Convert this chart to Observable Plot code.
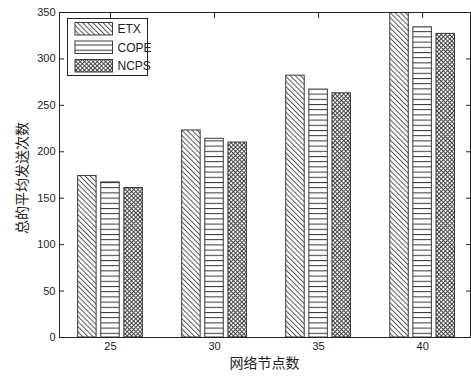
<!DOCTYPE html>
<html><head><meta charset="utf-8">
<script src="https://cdn.jsdelivr.net/npm/d3@7"></script>
<script src="https://cdn.jsdelivr.net/npm/@observablehq/plot@0.6"></script>
<style>
body{margin:0;background:#fff}
#chart{position:relative;width:471px;height:377px}
</style>
</head><body><div id="chart"></div>
<script>
// ---- data ----
const categories = [25, 30, 35, 40];
const seriesNames = ["ETX", "COPE", "NCPS"];
const etxValues = [174, 223, 282, 358];
const copeValues = [167, 214, 267, 334];
const ncpsValues = [161, 210, 263, 327];
const yTicks = [0, 50, 100, 150, 200, 250, 300, 350];
const xTicks = [25, 30, 35, 40];
const xLabel = "网络节点数";
const yLabel = "总的平均发送次数";

const seriesValues = [etxValues, copeValues, ncpsValues];
const patternIds = ["pat-etx", "pat-cope", "pat-ncps"];
const rows = [];
seriesNames.forEach((s, i) => categories.forEach((c, j) =>
  rows.push({category: c, series: s, index: i, value: seriesValues[i][j]})));

// MATLAB-style grouped bar geometry (in data units)
const groupSpacing = 5;
const barStep = groupSpacing * (3 / 4.5) / 3;
const barWidth = 0.8 * barStep;

const W = 471, H = 377;
const axisFont = "'Liberation Sans', Arial, sans-serif";

const barMarks = seriesNames.map((s, i) => Plot.rectY(rows.filter(d => d.series === s), {
  x1: d => d.category + (d.index - 1) * barStep - barWidth / 2,
  x2: d => d.category + (d.index - 1) * barStep + barWidth / 2,
  y: "value",
  fill: `url(#${patternIds[i]})`,
  stroke: "#3a3a3a",
  strokeWidth: 1,
  clip: true
}));

const svg = Plot.plot({
  width: W,
  height: H,
  marginLeft: 59,
  marginRight: 1,
  marginTop: 12,
  marginBottom: 40,
  style: {fontFamily: axisFont, fontSize: "11px", color: "#222", background: "#fff"},
  x: {type: "linear", domain: [22.55, 42.3]},
  y: {domain: [0, 350]},
  marks: [
    ...barMarks,
    Plot.frame({stroke: "#222"}),
    Plot.axisY(yTicks, {anchor: "left", tickSize: -5, tickPadding: 9, label: null, stroke: "#222"}),
    Plot.axisY(yTicks, {anchor: "right", tickSize: -5, tickFormat: () => "", label: null, stroke: "#222"}),
    Plot.axisX(xTicks, {anchor: "bottom", tickSize: 0, tickPadding: 5, label: null}),
    Plot.axisX(xTicks, {anchor: "top", tickSize: -5, tickFormat: () => "", label: null, stroke: "#222"})
  ]
});

const root = d3.select(svg);
const defs = root.insert("defs", ":first-child");
// ETX: diagonal "\" hatching
const p1 = defs.append("pattern").attr("id", "pat-etx").attr("patternUnits", "userSpaceOnUse")
  .attr("width", 3.6).attr("height", 3.6).attr("patternTransform", "rotate(-45)");
p1.append("rect").attr("width", 3.6).attr("height", 3.6).attr("fill", "#fff");
p1.append("line").attr("x1", 0.5).attr("y1", 0).attr("x2", 0.5).attr("y2", 3.6).attr("stroke", "#555").attr("stroke-width", 1);
// COPE: horizontal lines
const p2 = defs.append("pattern").attr("id", "pat-cope").attr("patternUnits", "userSpaceOnUse")
  .attr("width", 6).attr("height", 5.2);
p2.append("rect").attr("width", 6).attr("height", 5.2).attr("fill", "#fff");
p2.append("line").attr("x1", 0).attr("y1", 0.5).attr("x2", 6).attr("y2", 0.5).attr("stroke", "#333").attr("stroke-width", 1);
// NCPS: cross-hatch
const p3 = defs.append("pattern").attr("id", "pat-ncps").attr("patternUnits", "userSpaceOnUse")
  .attr("width", 3).attr("height", 3).attr("patternTransform", "rotate(45)");
p3.append("rect").attr("width", 3).attr("height", 3).attr("fill", "#fff");
p3.append("line").attr("x1", 0.5).attr("y1", 0).attr("x2", 0.5).attr("y2", 3).attr("stroke", "#444").attr("stroke-width", 1);
p3.append("line").attr("x1", 0).attr("y1", 0.5).attr("x2", 3).attr("y2", 0.5).attr("stroke", "#444").attr("stroke-width", 1);

// Axis titles
root.append("text").text(xLabel)
  .attr("x", 264.5).attr("y", 368)
  .attr("text-anchor", "middle")
  .attr("font-family", "'Noto Sans CJK SC', sans-serif").attr("font-size", 14).attr("fill", "#222");
root.append("text").text(yLabel)
  .attr("transform", "translate(27,178) rotate(-90)")
  .attr("text-anchor", "middle")
  .attr("font-family", "'Noto Sans CJK SC', sans-serif").attr("font-size", 14).attr("fill", "#222");

// Legend (inside top-left of plot)
const lg = root.append("g").attr("transform", "translate(67.5,18.5)");
lg.append("rect").attr("width", 80).attr("height", 57).attr("fill", "#fff").attr("stroke", "#222");
seriesNames.forEach((s, i) => {
  const yy = 4 + i * 18.5;
  lg.append("rect").attr("x", 7.5).attr("y", yy).attr("width", 37.5).attr("height", 12.5)
    .attr("fill", `url(#${patternIds[i]})`).attr("stroke", "#3a3a3a");
  lg.append("text").text(s).attr("x", 50).attr("y", yy + 10.5)
    .attr("text-anchor", "start")
    .attr("font-family", axisFont).attr("font-size", 12).attr("fill", "#222");
});

document.getElementById("chart").appendChild(svg);
</script>
</body></html>
